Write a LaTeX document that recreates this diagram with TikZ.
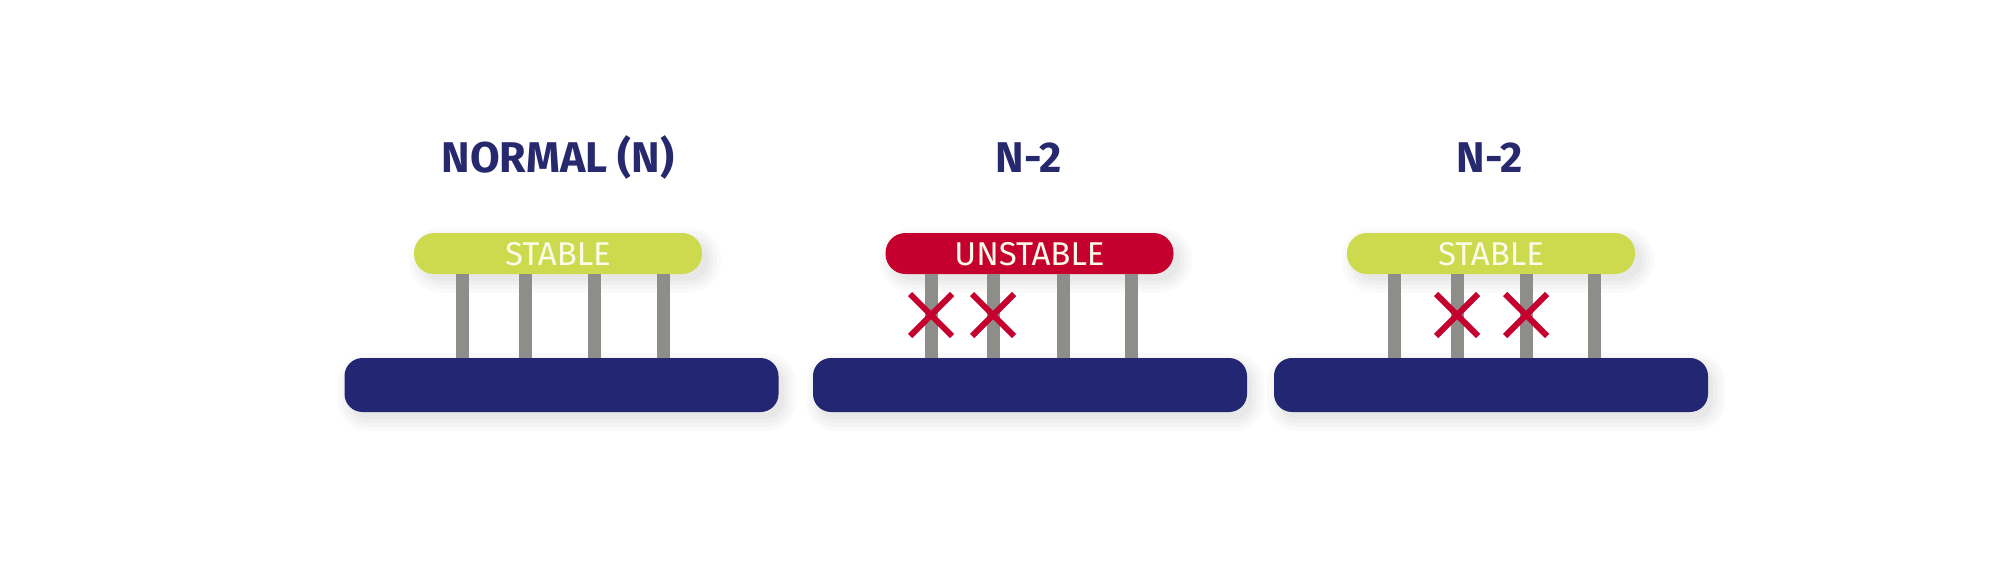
\documentclass[tikz,border=0pt]{standalone}
\usepackage{fontspec}
\setmainfont{Fira Sans}
\definecolor{navy}{HTML}{232672}
\definecolor{titleblue}{HTML}{27296E}
\definecolor{lime}{HTML}{CDDA4E}
\definecolor{alarm}{HTML}{C5002E}
\definecolor{post}{HTML}{8D8D89}
\definecolor{cream}{HTML}{FBFBEA}
\definecolor{shade1}{HTML}{FAFAFA}
\definecolor{shade2}{HTML}{F5F5F5}
\definecolor{shade3}{HTML}{EFEFEF}
\definecolor{shade4}{HTML}{E8E8E8}
\tikzset{
  title/.style={anchor=base, text=titleblue, font=\fontsize{43}{43}\selectfont\bfseries},
  topbar/.style={rectangle, rounded corners=20pt, minimum width=288pt, minimum height=41pt, inner sep=0pt},
  stable/.style={topbar, fill=lime},
  unstable/.style={topbar, fill=alarm},
  label/.style={anchor=base, text=cream, font=\fontsize{33}{33}\selectfont},
  basebar/.style={rectangle, rounded corners=18pt, minimum width=434pt, minimum height=54pt, inner sep=0pt, fill=navy},
  pillar/.style={draw=post, line width=13pt},
  cross/.style={draw=alarm, line width=6pt},
}
% soft shadow drawn directly: centre x, centre y, half width, half height, radius
\newcommand{\softshadow}[5]{%
  \fill[shade1, rounded corners=#5+12] (#1-#3-12,#2-#4-12) rectangle (#1+#3+12,#2+#4+12);
  \fill[shade2, rounded corners=#5+8] (#1-#3-8,#2-#4-8) rectangle (#1+#3+8,#2+#4+8);
  \fill[shade3, rounded corners=#5+4] (#1-#3-4,#2-#4-4) rectangle (#1+#3+4,#2+#4+4);
  \fill[shade4, rounded corners=#5] (#1-#3,#2-#4) rectangle (#1+#3,#2+#4);
}
\begin{document}
\begin{tikzpicture}[x=1pt, y=-1pt]
\useasboundingbox[fill=white] (0,0) rectangle (1990,574);

% shadows
\softshadow{567}{392}{217}{27}{18}
\softshadow{1035}{392}{217}{27}{18}
\softshadow{1496}{392}{217}{27}{18}
\softshadow{565}{260}{144}{20.5}{20}
\softshadow{1036}{260}{144}{20.5}{20}
\softshadow{1498}{260}{144}{20.5}{20}

% titles
\node[title] (t1) at (558,172) {NORMAL (N)};
\node[title] (t2) at (1029,172) {N-2};
\node[title] (t3) at (1490,172) {N-2};

% base bars
\node[basebar] (b1) at (561.5,385) {};
\node[basebar] (b2) at (1030,385) {};
\node[basebar] (b3) at (1491,385) {};

% top bars
\node[stable] (s1) at (558,253.5) {};
\node[unstable] (s2) at (1029.5,253.5) {};
\node[stable] (s3) at (1491,253.5) {};
\node[label] (l1) at (558,265) {STABLE};
\node[label] (l2) at (1029.5,265) {UNSTABLE};
\node[label] (l3) at (1491,265) {STABLE};

% pillars
\foreach \x in {462,525,594,663} \draw[pillar] (s1.south -| \x,0) -- (b1.north -| \x,0);
\foreach \x in {931,993,1063,1131} \draw[pillar] (s2.south -| \x,0) -- (b2.north -| \x,0);
\foreach \x in {1394,1457,1526,1594} \draw[pillar] (s3.south -| \x,0) -- (b3.north -| \x,0);

% crosses
\foreach \x [count=\i] in {931,993,1457,1526} {
  \coordinate (c\i) at (\x,315);
  \draw[cross] ([shift={(-21,-21)}]c\i) -- ([shift={(21,21)}]c\i);
  \draw[cross] ([shift={(-21,21)}]c\i) -- ([shift={(21,-21)}]c\i);
}
\end{tikzpicture}
\end{document}
